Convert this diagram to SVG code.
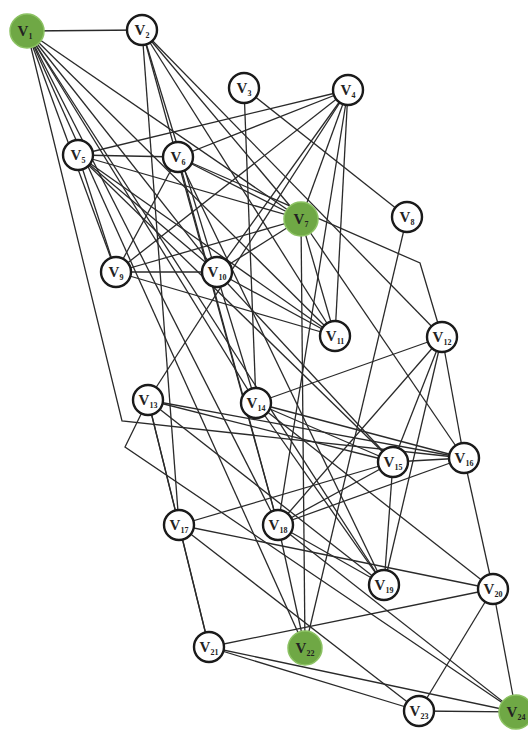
<svg xmlns="http://www.w3.org/2000/svg" width="528" height="734" viewBox="0 0 528 734">
<style>
.e{stroke:#2a2a2a;stroke-width:1.3;fill:none}
.n{fill:#fff;stroke:#1a1a1a;stroke-width:2.4}
.g{fill:#6fa845;stroke:#8cc263;stroke-width:1.5}
.t{font-family:"Liberation Serif",serif;font-size:15px;font-weight:bold;fill:#222;text-anchor:middle}
.s{font-size:8px}
</style>
<rect width="528" height="734" fill="#fff"/>
<g id="connectors">
<line class="e" x1="27" y1="31" x2="142" y2="30"/>
<polyline class="e" points="27,31 122,421 464,458"/>
<line class="e" x1="27" y1="31" x2="116" y2="272"/>
<line class="e" x1="27" y1="31" x2="278" y2="525"/>
<line class="e" x1="27" y1="31" x2="305" y2="648"/>
<line class="e" x1="27" y1="31" x2="256" y2="403"/>
<line class="e" x1="27" y1="31" x2="384" y2="585"/>
<line class="e" x1="27" y1="31" x2="335" y2="336"/>
<line class="e" x1="27" y1="31" x2="301" y2="219"/>
<line class="e" x1="27" y1="31" x2="217" y2="272"/>
<line class="e" x1="142" y1="30" x2="301" y2="219"/>
<line class="e" x1="142" y1="30" x2="335" y2="336"/>
<line class="e" x1="142" y1="30" x2="442" y2="337"/>
<line class="e" x1="142" y1="30" x2="256" y2="403"/>
<line class="e" x1="142" y1="30" x2="179" y2="525"/>
<line class="e" x1="142" y1="30" x2="278" y2="525"/>
<line class="e" x1="244" y1="88" x2="407" y2="217"/>
<line class="e" x1="244" y1="88" x2="256" y2="403"/>
<line class="e" x1="348" y1="90" x2="78" y2="155"/>
<line class="e" x1="348" y1="90" x2="178" y2="157"/>
<line class="e" x1="348" y1="90" x2="116" y2="272"/>
<line class="e" x1="348" y1="90" x2="217" y2="272"/>
<line class="e" x1="348" y1="90" x2="148" y2="400"/>
<line class="e" x1="348" y1="90" x2="301" y2="219"/>
<line class="e" x1="348" y1="90" x2="278" y2="525"/>
<line class="e" x1="348" y1="90" x2="335" y2="336"/>
<line class="e" x1="78" y1="155" x2="178" y2="157"/>
<line class="e" x1="78" y1="155" x2="301" y2="219"/>
<line class="e" x1="78" y1="155" x2="116" y2="272"/>
<line class="e" x1="78" y1="155" x2="217" y2="272"/>
<line class="e" x1="78" y1="155" x2="335" y2="336"/>
<line class="e" x1="78" y1="155" x2="393" y2="462"/>
<line class="e" x1="178" y1="157" x2="301" y2="219"/>
<line class="e" x1="178" y1="157" x2="116" y2="272"/>
<line class="e" x1="178" y1="157" x2="278" y2="525"/>
<line class="e" x1="178" y1="157" x2="384" y2="585"/>
<polyline class="e" points="178,157 420,263 442,337"/>
<line class="e" x1="301" y1="219" x2="116" y2="272"/>
<line class="e" x1="301" y1="219" x2="217" y2="272"/>
<line class="e" x1="301" y1="219" x2="335" y2="336"/>
<line class="e" x1="301" y1="219" x2="464" y2="458"/>
<line class="e" x1="301" y1="219" x2="305" y2="648"/>
<line class="e" x1="407" y1="217" x2="305" y2="648"/>
<line class="e" x1="116" y1="272" x2="217" y2="272"/>
<line class="e" x1="116" y1="272" x2="335" y2="336"/>
<line class="e" x1="217" y1="272" x2="335" y2="336"/>
<line class="e" x1="217" y1="272" x2="393" y2="462"/>
<line class="e" x1="442" y1="337" x2="256" y2="403"/>
<line class="e" x1="442" y1="337" x2="393" y2="462"/>
<line class="e" x1="442" y1="337" x2="464" y2="458"/>
<line class="e" x1="442" y1="337" x2="278" y2="525"/>
<line class="e" x1="442" y1="337" x2="384" y2="585"/>
<line class="e" x1="148" y1="400" x2="393" y2="462"/>
<line class="e" x1="148" y1="400" x2="464" y2="458"/>
<line class="e" x1="148" y1="400" x2="179" y2="525"/>
<line class="e" x1="148" y1="400" x2="209" y2="647"/>
<polyline class="e" points="148,400 125,447 516,712"/>
<line class="e" x1="148" y1="400" x2="384" y2="585"/>
<line class="e" x1="256" y1="403" x2="393" y2="462"/>
<line class="e" x1="256" y1="403" x2="464" y2="458"/>
<line class="e" x1="256" y1="403" x2="384" y2="585"/>
<line class="e" x1="256" y1="403" x2="493" y2="589"/>
<line class="e" x1="393" y1="462" x2="464" y2="458"/>
<line class="e" x1="393" y1="462" x2="278" y2="525"/>
<line class="e" x1="393" y1="462" x2="384" y2="585"/>
<line class="e" x1="393" y1="462" x2="179" y2="525"/>
<line class="e" x1="464" y1="458" x2="278" y2="525"/>
<line class="e" x1="464" y1="458" x2="493" y2="589"/>
<line class="e" x1="179" y1="525" x2="493" y2="589"/>
<line class="e" x1="179" y1="525" x2="209" y2="647"/>
<line class="e" x1="179" y1="525" x2="419" y2="711"/>
<line class="e" x1="278" y1="525" x2="384" y2="585"/>
<line class="e" x1="278" y1="525" x2="305" y2="648"/>
<line class="e" x1="278" y1="525" x2="516" y2="712"/>
<line class="e" x1="493" y1="589" x2="209" y2="647"/>
<line class="e" x1="493" y1="589" x2="419" y2="711"/>
<line class="e" x1="493" y1="589" x2="516" y2="712"/>
<line class="e" x1="209" y1="647" x2="419" y2="711"/>
<line class="e" x1="209" y1="647" x2="516" y2="712"/>
<line class="e" x1="419" y1="711" x2="516" y2="712"/>
</g>
<g id="V1"><circle class="g" cx="27" cy="31" r="17"/><text class="t" x="25" y="36">V<tspan class="s" dy="3">1</tspan></text></g>
<g id="V2"><circle class="n" cx="142" cy="30" r="15"/><text class="t" x="142" y="35">V<tspan class="s" dy="3">2</tspan></text></g>
<g id="V3"><circle class="n" cx="244" cy="88" r="15"/><text class="t" x="244" y="93">V<tspan class="s" dy="3">3</tspan></text></g>
<g id="V4"><circle class="n" cx="348" cy="90" r="15"/><text class="t" x="348" y="95">V<tspan class="s" dy="3">4</tspan></text></g>
<g id="V5"><circle class="n" cx="78" cy="155" r="15"/><text class="t" x="78" y="160">V<tspan class="s" dy="3">5</tspan></text></g>
<g id="V6"><circle class="n" cx="178" cy="157" r="15"/><text class="t" x="178" y="162">V<tspan class="s" dy="3">6</tspan></text></g>
<g id="V7"><circle class="g" cx="301" cy="219" r="17"/><text class="t" x="301" y="224">V<tspan class="s" dy="3">7</tspan></text></g>
<g id="V8"><circle class="n" cx="407" cy="217" r="15"/><text class="t" x="407" y="222">V<tspan class="s" dy="3">8</tspan></text></g>
<g id="V9"><circle class="n" cx="116" cy="272" r="15"/><text class="t" x="116" y="277">V<tspan class="s" dy="3">9</tspan></text></g>
<g id="V10"><circle class="n" cx="217" cy="272" r="15"/><text class="t" x="217" y="277">V<tspan class="s" dy="3">10</tspan></text></g>
<g id="V11"><circle class="n" cx="335" cy="336" r="15"/><text class="t" x="335" y="341">V<tspan class="s" dy="3">11</tspan></text></g>
<g id="V12"><circle class="n" cx="442" cy="337" r="15"/><text class="t" x="442" y="342">V<tspan class="s" dy="3">12</tspan></text></g>
<g id="V13"><circle class="n" cx="148" cy="400" r="15"/><text class="t" x="148" y="405">V<tspan class="s" dy="3">13</tspan></text></g>
<g id="V14"><circle class="n" cx="256" cy="403" r="15"/><text class="t" x="256" y="408">V<tspan class="s" dy="3">14</tspan></text></g>
<g id="V15"><circle class="n" cx="393" cy="462" r="15"/><text class="t" x="393" y="467">V<tspan class="s" dy="3">15</tspan></text></g>
<g id="V16"><circle class="n" cx="464" cy="458" r="15"/><text class="t" x="464" y="463">V<tspan class="s" dy="3">16</tspan></text></g>
<g id="V17"><circle class="n" cx="179" cy="525" r="15"/><text class="t" x="179" y="530">V<tspan class="s" dy="3">17</tspan></text></g>
<g id="V18"><circle class="n" cx="278" cy="525" r="15"/><text class="t" x="278" y="530">V<tspan class="s" dy="3">18</tspan></text></g>
<g id="V19"><circle class="n" cx="384" cy="585" r="15"/><text class="t" x="384" y="590">V<tspan class="s" dy="3">19</tspan></text></g>
<g id="V20"><circle class="n" cx="493" cy="589" r="15"/><text class="t" x="493" y="594">V<tspan class="s" dy="3">20</tspan></text></g>
<g id="V21"><circle class="n" cx="209" cy="647" r="15"/><text class="t" x="209" y="652">V<tspan class="s" dy="3">21</tspan></text></g>
<g id="V22"><circle class="g" cx="305" cy="648" r="17"/><text class="t" x="305" y="653">V<tspan class="s" dy="3">22</tspan></text></g>
<g id="V23"><circle class="n" cx="419" cy="711" r="15"/><text class="t" x="419" y="716">V<tspan class="s" dy="3">23</tspan></text></g>
<g id="V24"><circle class="g" cx="516" cy="712" r="17"/><text class="t" x="516" y="717">V<tspan class="s" dy="3">24</tspan></text></g>
</svg>
